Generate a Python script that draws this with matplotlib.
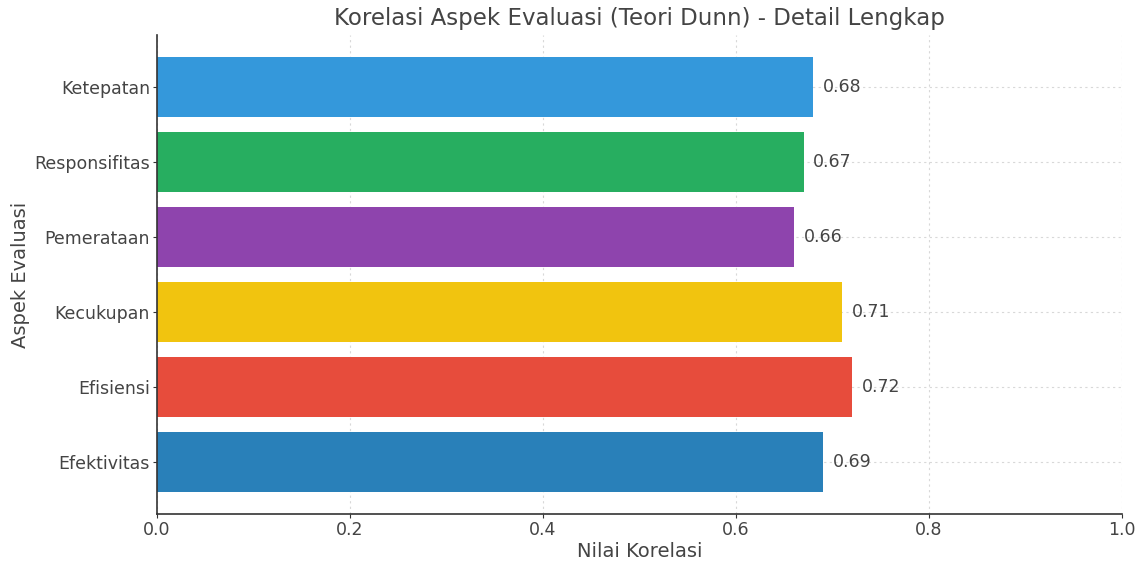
import matplotlib
matplotlib.use("Agg")
import matplotlib.pyplot as plt

aspek = ["Efektivitas", "Efisiensi", "Kecukupan", "Pemerataan", "Responsifitas", "Ketepatan"]
korelasi = [0.69, 0.72, 0.71, 0.66, 0.67, 0.68]
warna = ["#2980b9", "#e74c3c", "#f1c40f", "#8e44ad", "#27ae60", "#3498db"]
xticks = [0.0, 0.2, 0.4, 0.6, 0.8, 1.0]

teks = "#444444"

fig = plt.figure(figsize=(11.41, 5.64), dpi=100)
ax = fig.add_axes([0.1376, 0.0887, 0.8458, 0.8493])

bars = ax.barh(aspek, korelasi, color=warna, height=0.8, zorder=2)
for b, v in zip(bars, korelasi):
    ax.text(v + 0.01, b.get_y() + b.get_height() / 2, f"{v:.2f}",
            va="center", ha="left", fontsize=12.5, color=teks, zorder=3)

ax.set_xlim(0, 1.0)
ax.set_xticks(xticks)
ax.set_xticklabels([f"{t:.1f}" for t in xticks])
ax.grid(True, linestyle=(0, (2, 3)), color="#d8d8d8", linewidth=0.8, zorder=0)
ax.set_axisbelow(True)

for s in ["top", "right"]:
    ax.spines[s].set_visible(False)
for s in ["left", "bottom"]:
    ax.spines[s].set_color("#333333")
    ax.spines[s].set_linewidth(1.2)

ax.tick_params(colors="#333333", labelcolor=teks, labelsize=12.5, length=3, pad=2)
ax.set_title("Korelasi Aspek Evaluasi (Teori Dunn) - Detail Lengkap",
             fontsize=16.5, color=teks, pad=7)
ax.set_xlabel("Nilai Korelasi", fontsize=14, color=teks, labelpad=2)
ax.set_ylabel("Aspek Evaluasi", fontsize=14, color=teks, labelpad=3)

fig.savefig("out.png", dpi=100)
